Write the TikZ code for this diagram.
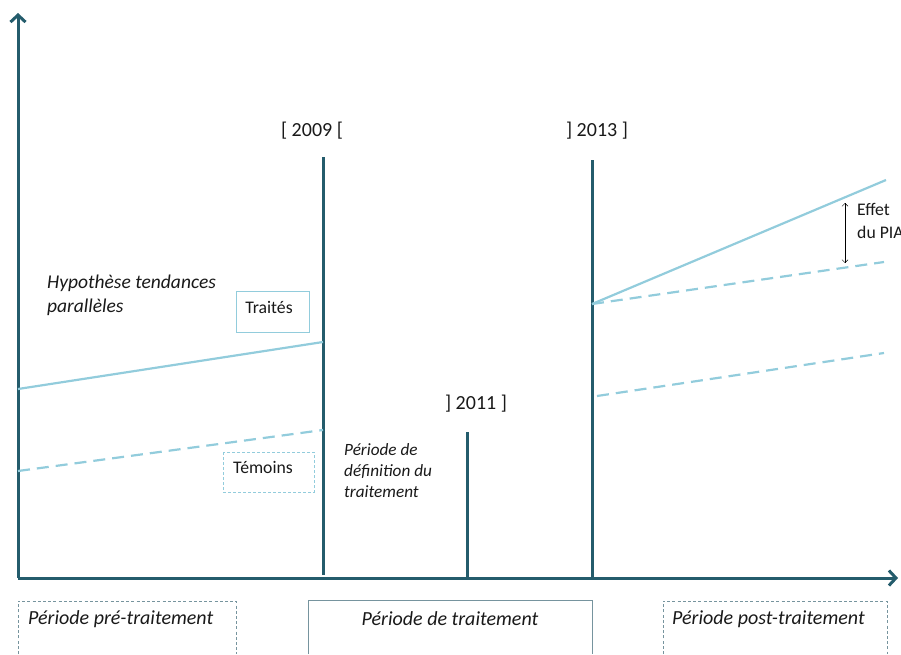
\documentclass[tikz,border=0pt]{standalone}
\usepackage{fontspec}
\setmainfont{Carlito}
\usetikzlibrary{arrows.meta}

\definecolor{axe}{RGB}{36,92,108}
\definecolor{bleu}{RGB}{146,204,220}
\definecolor{cadre}{RGB}{118,148,158}

\newcommand{\taille}[1]{\fontsize{#1}{1.2\dimexpr#1pt\relax}\selectfont}

\tikzset{
  axe/.style={draw=axe, line width=3pt},
  tendance/.style={draw=bleu, line width=2.2pt},
  temoin/.style={draw=bleu, line width=2.2pt, dash pattern=on 12pt off 7pt},
  periode/.style={draw=cadre, line width=0.9pt},
  periodetir/.style={periode, dash pattern=on 3pt off 2.2pt},
  etiquette/.style={inner sep=0pt, text=black!90},
  bas/.style={etiquette, font=\taille{20}\itshape},
}

\begin{document}
\begin{tikzpicture}[x=1pt, y=-1pt, font=\taille{17.7}]
    \useasboundingbox (0,0) rectangle (901,654);
    % \draw[help lines, step=50] (0,0) grid (901,654);

    % axes
    \draw[axe, -{Straight Barb[length=7pt, width=15pt]}] (18,578) -- (18,13);
    \draw[axe, -{Straight Barb[length=7pt, width=15pt]}] (18,578) -- (898,578);

    % dates
    \draw[axe] (323,157) -- (323,575);
    \draw[axe] (467,432) -- (467,578);
    \draw[axe] (592,160) -- (592,578);
    \draw node[etiquette, font=\taille{20}] (d2009) at (312,131) {[ 2009 [};
    \draw node[etiquette, font=\taille{20}] (d2011) at (476,404) {] 2011 ]};
    \draw node[etiquette, font=\taille{20}] (d2013) at (597,131) {] 2013 ]};

    % tendances avant
    \draw[tendance] (18,389) -- (323,342);
    \draw[temoin] (18,471) -- (323,430);

    % tendances apres
    \draw[tendance] (592,304) -- (886,180);
    \draw[temoin] (592,304) -- (884,262);
    \draw[temoin] (597,396) -- (884,353);

    % effet
    \coordinate (haut) at (845,203);
    \coordinate (bas) at (845,263);
    \draw[{Straight Barb[length=3pt, width=6pt]}-{Straight Barb[length=3pt, width=6pt]}, thin] (haut) -- (bas);
    \draw node[etiquette, anchor=west] (effet) at (857,209) {Effet};
    \draw node[etiquette, anchor=west] (pia) at (857,232) {du PIA};

    % legendes
    \draw node[etiquette, anchor=west, font=\fontsize{19.5}{24}\selectfont\itshape, align=left] (hypo) at (47,295) {Hypothèse tendances\\parallèles};
    \draw[draw=bleu, line width=1pt] (236,291) rectangle (309,332);
    \draw node[etiquette] (traites) at (269,307) {Traités};
    \draw[draw=bleu, line width=1pt, dash pattern=on 3pt off 2pt] (223,452) rectangle (314,492);
    \draw node[etiquette] (temoins) at (263,467) {Témoins};
    \draw node[etiquette, anchor=north west, font=\fontsize{17.2}{21}\selectfont\itshape, align=left] (defin) at (344,443) {Période de\\définition du\\traitement};

    % periodes
    \draw[periodetir] (18,654) -- (18,601) -- (236,601) -- (236,654);
    \draw node[bas, anchor=west] (pre) at (28,619) {Période pré-traitement};
    \draw[periode] (308,654) -- (308,600) -- (592,600) -- (592,654);
    \draw node[bas] (trait) at (450,619) {Période de traitement};
    \draw[periodetir] (663,654) -- (663,601) -- (887,601) -- (887,654);
    \draw node[bas, anchor=west] (post) at (672,619) {Période post-traitement};

\end{tikzpicture}
\end{document}
